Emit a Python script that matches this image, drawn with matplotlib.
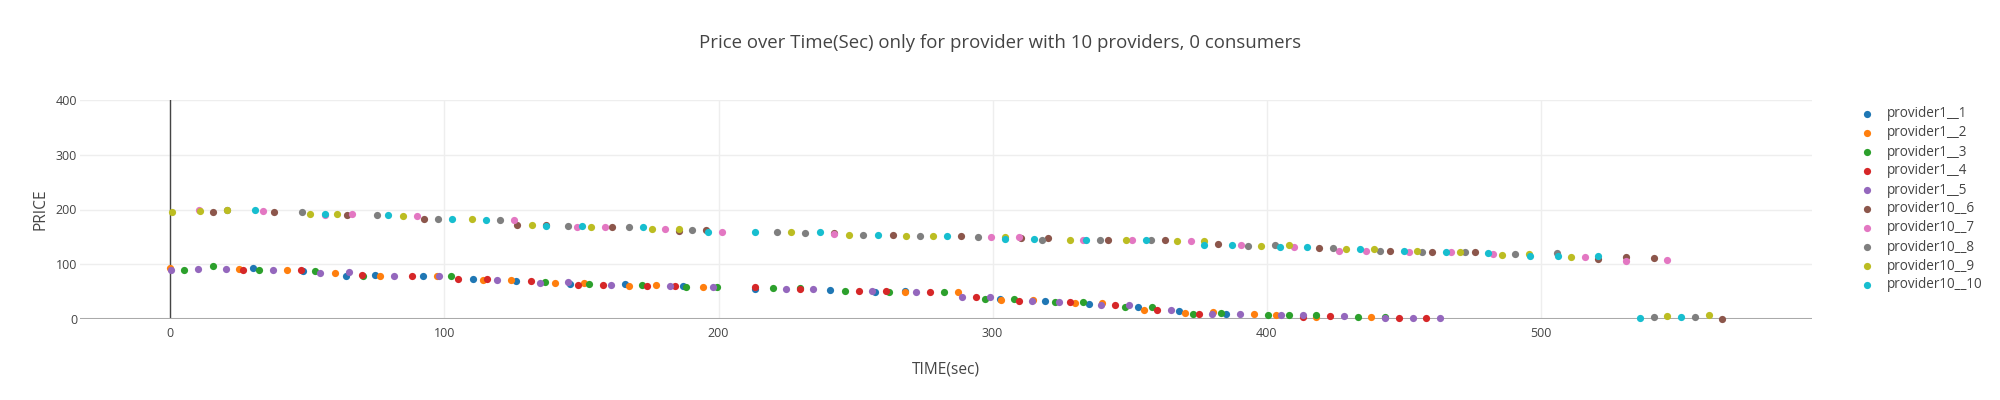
import matplotlib
matplotlib.use("Agg")
import matplotlib.pyplot as plt
from matplotlib.lines import Line2D

# ---------------- data ----------------
labels = ["provider1__1", "provider1__2", "provider1__3", "provider1__4", "provider1__5",
          "provider10__6", "provider10__7", "provider10__8", "provider10__9", "provider10__10"]
colors = ["#1f77b4", "#ff7f0e", "#2ca02c", "#d62728", "#9467bd",
          "#8c564b", "#e377c2", "#7f7f7f", "#bcbd22", "#17becf"]

p1_time = [30.2, 48.3, 64.2, 74.8, 92.2, 110.5, 126.2, 145.7, 165.7, 187.2, 213.2, 240.7, 257.0,
           268.0, 302.6, 319.2, 335.0, 353.2, 368.2, 385.1]
p1_price = [93.2, 87.7, 79.1, 79.8, 77.9, 73.7, 70.0, 64.5, 63.3, 60.3, 54.2, 53.0, 49.9,
            51.1, 37.1, 32.9, 27.4, 22.5, 14.0, 9.7]

p2_time = [0.0, 25.2, 42.5, 60.1, 76.4, 97.1, 113.9, 124.2, 140.5, 151.0, 167.3, 177.3, 194.4,
           268.2, 287.4, 303.0, 314.8, 329.9, 340.0, 355.1, 370.2, 380.4, 395.5, 403.3, 418.1, 438.2]
p2_price = [93.7, 91.3, 88.9, 84.6, 78.5, 77.9, 70.6, 70.6, 65.1, 65.1, 60.9, 61.5, 59.1,
            48.7, 48.7, 34.1, 34.7, 28.6, 29.2, 15.8, 10.4, 12.2, 8.5, 7.9, 3.0, 3.7]

p3_time = [5.0, 15.6, 32.4, 52.9, 70.4, 102.3, 136.7, 152.8, 172.1, 188.2, 199.5, 219.7, 229.7,
           246.1, 262.3, 282.1, 297.3, 307.7, 322.9, 333.1, 348.2, 358.3, 373.2, 383.3, 400.4,
           408.2, 418.1, 433.2, 443.2]
p3_price = [90.1, 97.4, 88.9, 87.0, 79.1, 77.9, 67.0, 63.9, 61.5, 59.1, 59.1, 56.0, 57.2,
            51.8, 49.9, 48.7, 36.5, 36.5, 30.4, 31.1, 22.5, 22.5, 9.1, 10.4, 7.9,
            7.3, 7.3, 3.7, 4.3]

p4_time = [26.6, 47.6, 69.8, 88.3, 105.0, 115.5, 131.6, 148.7, 157.9, 174.0, 184.1, 213.2, 229.7,
           251.1, 261.1, 277.1, 294.1, 309.7, 328.1, 344.5, 360.1, 375.4, 413.1, 423.1, 448.3, 458.3]
p4_price = [89.5, 89.5, 79.8, 77.9, 73.7, 73.7, 70.0, 62.7, 62.7, 59.7, 60.9, 57.8, 54.2,
            50.5, 51.8, 48.7, 39.6, 32.9, 31.1, 25.6, 15.8, 9.7, 3.0, 6.1, 1.8, 1.8]

p5_time = [0.1, 10.1, 20.2, 37.3, 54.6, 65.2, 81.4, 98.1, 119.2, 135.0, 145.1, 160.7, 182.4,
           197.9, 224.7, 234.6, 256.1, 272.1, 289.0, 299.1, 314.3, 324.4, 339.5, 349.6, 365.0,
           380.2, 390.3, 405.3, 413.1, 428.1, 443.2, 453.3, 463.2]
p5_price = [90.1, 90.7, 91.3, 88.9, 84.6, 85.2, 77.9, 77.9, 70.6, 65.8, 67.0, 62.7, 59.7,
            57.8, 54.8, 54.8, 51.8, 48.7, 40.8, 40.8, 32.3, 31.7, 25.6, 26.2, 17.0,
            8.5, 8.5, 7.9, 7.3, 5.5, 1.2, 1.8, 2.4]

p6_time = [15.7, 37.8, 64.6, 92.6, 126.3, 137.2, 161.2, 185.4, 195.5, 242.1, 263.5, 288.3, 310.2,
           320.2, 342.1, 362.9, 382.2, 419.1, 445.0, 460.4, 476.0, 521.0, 531.1, 541.2, 566.3]
p6_price = [196.0, 195.4, 190.6, 182.6, 172.3, 172.3, 167.4, 161.3, 162.6, 157.7, 154.0, 151.6, 147.9,
            147.9, 143.7, 143.7, 136.4, 129.1, 124.2, 123.0, 123.0, 109.6, 112.6, 110.8, 0.6]

p7_time = [10.5, 33.9, 56.3, 66.3, 90.0, 125.2, 148.4, 158.6, 180.4, 201.4, 242.1, 299.5, 309.5,
           333.1, 350.9, 372.3, 390.6, 409.9, 426.3, 436.3, 451.8, 467.4, 482.7, 516.1, 531.1, 546.2]
p7_price = [199.0, 196.7, 190.0, 191.2, 188.7, 180.2, 167.4, 167.4, 165.0, 159.5, 154.6, 149.2, 150.4,
            144.9, 143.7, 143.1, 135.8, 132.1, 124.2, 124.2, 123.0, 123.0, 119.3, 113.9, 105.9, 107.8]

p8_time = [20.8, 47.9, 75.3, 97.6, 120.2, 145.1, 167.3, 190.4, 221.4, 231.6, 252.8, 273.4, 294.5,
           318.0, 339.1, 357.8, 393.2, 403.1, 424.1, 441.4, 456.8, 472.3, 490.6, 505.8, 541.2, 556.2]
p8_price = [200.0, 195.4, 190.6, 182.6, 181.4, 170.5, 167.4, 162.6, 158.9, 157.7, 154.0, 152.2, 150.4,
            144.9, 144.9, 144.3, 133.9, 134.6, 130.3, 124.2, 123.0, 123.0, 118.7, 119.9, 3.0, 3.7]

p9_time = [0.6, 10.7, 20.8, 51.1, 60.9, 84.7, 110.2, 132.1, 153.6, 175.6, 185.4, 226.5, 247.6,
           268.3, 278.3, 304.6, 328.1, 348.5, 367.2, 377.3, 398.1, 408.0, 429.1, 439.2, 455.0,
           470.4, 485.8, 495.8, 510.9, 546.2, 561.3]
p9_price = [195.4, 196.5, 198.5, 191.2, 192.4, 188.1, 182.6, 172.3, 168.6, 164.4, 164.4, 158.3, 154.0,
            151.6, 151.6, 149.2, 144.9, 143.7, 141.9, 141.9, 133.9, 135.2, 128.5, 127.9, 124.2,
            123.0, 116.3, 119.3, 113.9, 5.5, 6.7]

p10_time = [30.8, 56.3, 79.3, 102.6, 115.0, 137.2, 150.3, 172.5, 196.2, 213.2, 237.0, 258.2, 283.3,
            304.4, 315.2, 334.1, 355.8, 377.1, 387.2, 404.7, 414.8, 434.2, 450.0, 465.6, 480.8,
            496.2, 506.2, 521.0, 536.1, 551.2]
p10_price = [198.5, 191.8, 189.3, 182.0, 180.8, 169.3, 169.3, 167.4, 159.5, 158.9, 158.3, 153.4, 151.6,
             146.1, 146.7, 144.9, 143.7, 135.2, 135.2, 132.1, 132.1, 127.2, 124.2, 123.0, 121.2,
             115.1, 115.1, 115.1, 2.4, 3.7]

x_ticks = [0, 100, 200, 300, 400, 500]
y_ticks = [0, 100, 200, 300, 400]

title = "Price over Time(Sec) only for provider with 10 providers, 0 consumers"
x_title = "TIME(sec)"
y_title = "PRICE"

# ---------------- drawing ----------------
FONT = ["Open Sans", "DejaVu Sans"]
plt.rcParams["font.family"] = FONT
TXT = "#444444"
PX = 0.72  # points per pixel at dpi 100
W, H = 2000, 400

fig = plt.figure(figsize=(20, 4), dpi=100)
ax = fig.add_axes([80 / W, 1 - 319 / H, (1812 - 80) / W, (319 - 100) / H])

series_t = [p1_time, p2_time, p3_time, p4_time, p5_time, p6_time, p7_time, p8_time, p9_time, p10_time]
series_p = [p1_price, p2_price, p3_price, p4_price, p5_price, p6_price, p7_price, p8_price, p9_price, p10_price]

MS = 27
for t, p, c, lab in zip(series_t, series_p, colors, labels):
    ax.scatter(t, p, s=MS, color=c, label=lab, linewidths=0, zorder=3, clip_on=False)

ax.set_xlim(-33, 599)
ax.set_ylim(0, 400)
ax.set_xticks(x_ticks)
ax.set_yticks(y_ticks)
ax.grid(True, color="#eeeeee", linewidth=1)
ax.set_axisbelow(True)
for s in ax.spines.values():
    s.set_visible(False)
ax.axvline(0, color=TXT, linewidth=1, zorder=2)
ax.axhline(0, color="#aaaaaa", linewidth=2.2, zorder=2)
ax.tick_params(length=0, labelsize=12.5 * PX, colors=TXT, pad=6)
ax.tick_params(axis="y", pad=2)

ax.set_xlabel(x_title, fontsize=15.5 * PX, color=TXT, labelpad=15)
ax.set_ylabel(y_title, fontsize=15.5 * PX, color=TXT, labelpad=5)

fig.text(0.5, 1 - 43 / H, title, ha="center", va="center", fontsize=18.7 * PX, color=TXT)

# legend (plotly-style, right side)
leg_marker_x, leg_text_x, leg_top, leg_step = 1867, 1887, 114, 19
for i, (c, lab) in enumerate(zip(colors, labels)):
    yy = 1 - (leg_top + i * leg_step) / H
    fig.add_artist(Line2D([leg_marker_x / W], [yy], transform=fig.transFigure, marker="o",
                          markersize=MS ** 0.5, color=c, markeredgewidth=0, linestyle="none"))
    fig.text(leg_text_x / W, yy, lab, ha="left", va="center", fontsize=13.5 * PX, color=TXT)

fig.savefig("out.png", dpi=100)
